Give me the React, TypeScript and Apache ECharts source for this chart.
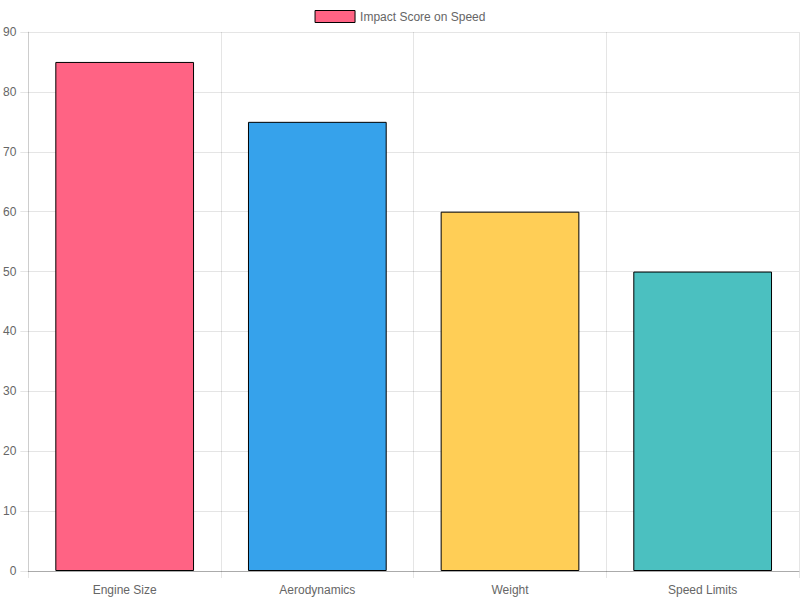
import React, { useEffect, useRef } from "react";
import * as echarts from "echarts";

const categories = ["Engine Size", "Aerodynamics", "Weight", "Speed Limits"];
const values = [85, 75, 60, 50];
const colors = ["#FF6384", "#36A2EB", "#FFCE56", "#4BC0C0"];
const seriesName = "Impact Score on Speed";

export default function App() {
  const ref = useRef<HTMLDivElement>(null);
  useEffect(() => {
    document.body.style.margin = "0";
    const chart = echarts.init(ref.current!, undefined, { renderer: "svg" });
    const font = "'Liberation Sans', Arial, sans-serif";
    chart.setOption({
      animation: false,
      legend: {
        top: 5,
        left: "center",
        icon: "rect",
        itemWidth: 40,
        itemHeight: 12,
        itemGap: 10,
        textStyle: { color: "#666", fontSize: 12, fontFamily: font },
        data: [{ name: seriesName, itemStyle: { color: colors[0], borderColor: "#000", borderWidth: 1 } }],
      },
      grid: { left: 28, right: 1, top: 32, bottom: 29, containLabel: false },
      xAxis: {
        type: "category",
        data: categories,
        boundaryGap: true,
        axisLine: { show: true, lineStyle: { color: "rgba(0,0,0,0.25)" } },
        axisTick: { show: true, length: 7, alignWithLabel: false, lineStyle: { color: "rgba(0,0,0,0.1)" } },
        splitLine: { show: true, lineStyle: { color: "rgba(0,0,0,0.1)" } },
        axisLabel: { color: "#666", fontSize: 12, fontFamily: font, margin: 13 },
      },
      yAxis: {
        type: "value",
        min: 0,
        max: 90,
        interval: 10,
        axisLine: { show: true, lineStyle: { color: "rgba(0,0,0,0.1)" } },
        axisTick: { show: true, length: 8, lineStyle: { color: "rgba(0,0,0,0.1)" } },
        splitLine: { show: true, lineStyle: { color: "rgba(0,0,0,0.1)" } },
        axisLabel: { color: "#666", fontSize: 12, fontFamily: font, margin: 12 },
      },
      series: [
        {
          name: seriesName,
          type: "bar",
          barCategoryGap: "28%",
          itemStyle: { color: colors[0], borderColor: "#000", borderWidth: 1 },
          data: values.map((v, i) => ({ value: v, itemStyle: { color: colors[i] } })),
        },
      ],
    });
    return () => chart.dispose();
  }, []);
  return <div ref={ref} style={{ width: 800, height: 600 }} />;
}
